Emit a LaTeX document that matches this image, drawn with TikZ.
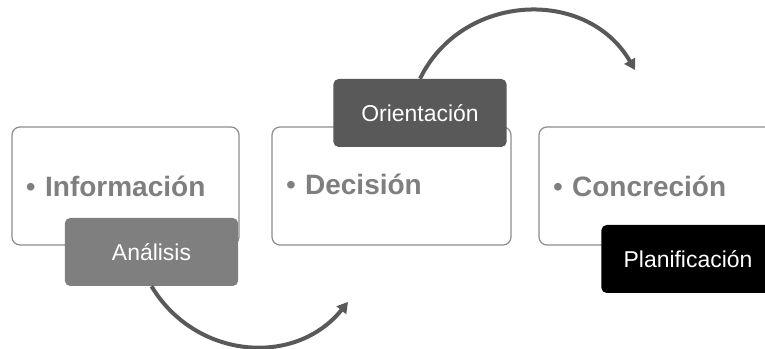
\documentclass[tikz,border=0pt]{standalone}
\usepackage{fontspec}
\setmainfont{Liberation Sans}
\usetikzlibrary{arrows.meta}
\definecolor{txtgray}{HTML}{7F7F7F}
\definecolor{boxline}{HTML}{8C8C8C}
\definecolor{midgray}{HTML}{7F7F7F}
\definecolor{darkgray}{HTML}{595959}
\begin{document}
\begin{tikzpicture}[x=0.75pt,y=0.75pt]
\tikzset{
  stage/.style={draw=boxline,line width=0.9pt,rounded corners=6pt,fill=white,
    minimum height=88.5pt,inner xsep=10.5pt,text=txtgray,
    font=\fontsize{21}{25}\selectfont\bfseries,align=left},
  tag/.style={rounded corners=4pt,minimum width=130pt,minimum height=51pt,
    text=white,font=\fontsize{17.2}{20}\selectfont},
  flow/.style={draw=darkgray,line width=3pt,-{Triangle[length=8pt,width=9pt]}}
}
\useasboundingbox (0,0) rectangle (765,349);
% stages
\node[stage,text width=149.25pt] (info) at (125.5,163) {{\mdseries\textbullet}\ Información};
\node[stage,text width=158.25pt] (deci) at (391.5,163) {\raisebox{3pt}{{\mdseries\textbullet}\ Decisión}};
\node[stage,text width=159pt] (conc) at (659,163) {{\mdseries\textbullet}\ Concreción};
% tags
\node[tag,fill=midgray] (anal) at (151.5,97) {Análisis};
\node[tag,fill=darkgray] (orie) at (420,236) {Orientación};
\node[tag,fill=black] (plan) at (688,90) {Planificación};
% arrows
\coordinate (topend) at (635,279);
\coordinate (botend) at (348,47);
\draw[flow] (orie.north) to[out=64,in=120,looseness=1.14] (topend);
\draw[flow] (anal.south) to[out=-59,in=231,looseness=1.1] (botend);
\end{tikzpicture}
\end{document}
